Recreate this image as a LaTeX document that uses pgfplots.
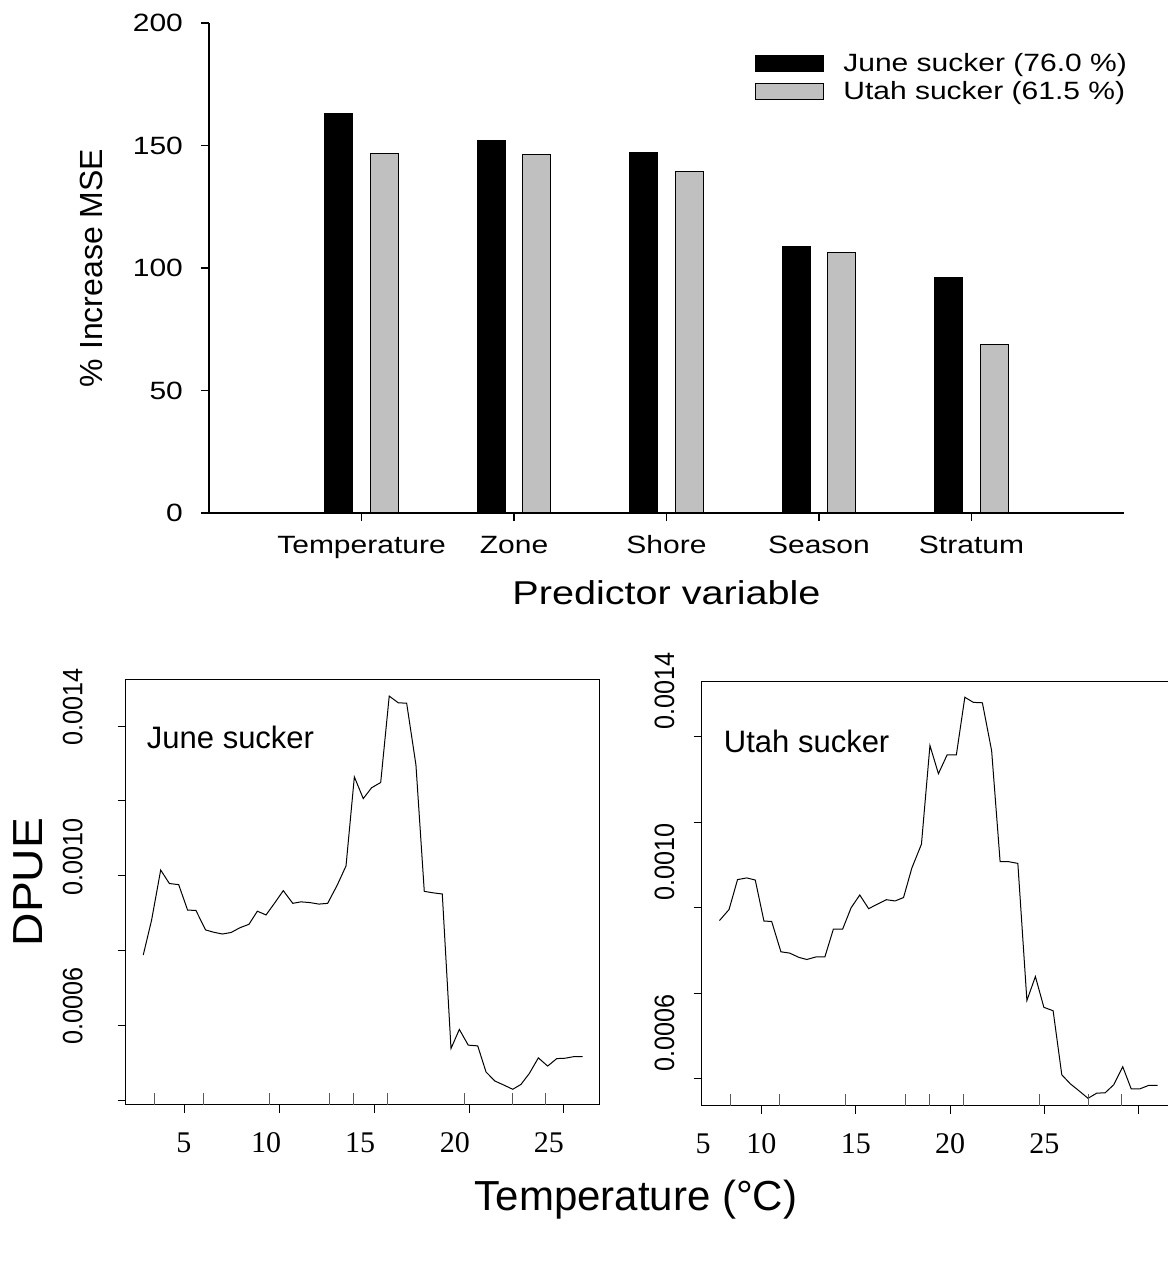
\documentclass[border=0pt]{standalone}
\usepackage{fontspec}
\setmainfont{Liberation Sans}
\newfontfamily\topfont{Liberation Sans}[FakeStretch=1.2]
\newfontfamily\dpuefont{Liberation Sans}[FakeStretch=1.1]
\newfontfamily\ytfont{Liberation Sans}[FakeStretch=0.9]
\newfontfamily\serifnum{Liberation Serif}
\usepackage{pgfplots}
\pgfplotsset{compat=1.18}
\definecolor{ugray}{RGB}{192,192,192}
\pgfplotsset{bigbox legend/.style={legend image code/.code={\draw[##1] (0pt,0pt) rectangle (34pt,7.8pt);}}}

\begin{document}
\begin{tikzpicture}
\path[use as bounding box] (0,0) rectangle (584pt,635pt);

% ---------------- top bar chart ----------------
\begin{axis}[
  at={(104.5pt,378.5pt)}, anchor=south west,
  scale only axis, width=457.5pt, height=245pt,
  xmin=-1, xmax=5, ymin=0, ymax=200,
  axis x line*=bottom, axis y line*=left,
  axis line style={line width=0.6pt,-},
  xtick={0,1,2,3,4}, xticklabels={Temperature,Zone,Shore,Season,Stratum},
  ytick={0,50,100,150,200},
  tick align=outside, major tick length=4pt,
  tick style={line width=0.6pt, black},
  /pgf/number format/assume math mode=true,
  ticklabel style={font=\topfont\fontsize{12.5}{14}\selectfont},
  xticklabel style={text height=9.2pt, text depth=2.8pt, yshift=-3.5pt},
  yticklabel style={xshift=-5.5pt},
  xlabel={Predictor variable}, ylabel={\% Increase MSE},
  xlabel style={font=\topfont\fontsize{16.5}{19}\selectfont, at={(axis description cs:0.5,-0.163)}, anchor=center},
  ylabel style={font=\fontsize{16}{18}\selectfont, at={(axis description cs:-0.128,0.5)}, anchor=center},
  legend style={at={(axis description cs:0.5967,0.9378)}, anchor=north west, draw=none, fill=none,
    inner sep=0pt, column sep=9.5pt, row sep=2.9pt,
    font=\topfont\fontsize{12.5}{14}\selectfont,
    nodes={inner sep=0pt, text height=8.6pt, text depth=2.5pt, anchor=base west}},
  legend cell align=left,
]
\addplot[ybar, bar width=14pt, bar shift=-11.35pt, fill=black, draw=black, bigbox legend]
  coordinates {(0,163.1) (1,152.2) (2,147.1) (3,108.9) (4,96.3)};
\addplot[ybar, bar width=14pt, bar shift=11.35pt, fill=ugray, draw=black, line width=0.5pt, bigbox legend]
  coordinates {(0,146.6) (1,146.4) (2,139.4) (3,106.3) (4,68.8)};
\legend{June sucker (76.0 \%), Utah sucker (61.5 \%)}
\end{axis}

% ---------------- bottom left ----------------
\begin{axis}[
  at={(62.85pt,82.5pt)}, anchor=south west, scale only axis,
  width=236.65pt, height=212.5pt,
  xmin=1.884, xmax=26.86, ymin=3.87, ymax=15.23,
  axis line style={line width=0.5pt,-},
  xtick={5,10,15,20,25}, xticklabels={,,,,},
  extra x ticks={4.96,9.29,14.25,19.26,24.22}, extra x tick labels={5,10,15,20,25},
  extra x tick style={tick style={draw=none}},
  ytick={4,6,8,10,12,14}, yticklabels={,0.0006,,0.0010,,0.0014},
  xtick pos=left, ytick pos=left, tick align=outside, major tick length=4pt,
  tick style={black, line width=0.5pt},
  xticklabel style={font=\serifnum\fontsize{15}{17}\selectfont, text height=10pt, text depth=0pt, yshift=-6pt},
  yticklabel style={font=\ytfont\fontsize{14}{16}\selectfont, rotate=90, anchor=south, xshift=9.5pt},
  yticklabel shift=14pt,
]
\addplot[black, line width=0.5pt] coordinates {
(2.81,7.88) (3.25,8.81) (3.73,10.15) (4.19,9.79) (4.68,9.76) (5.15,9.08) (5.59,9.07) (6.10,8.55) (6.51,8.49) (6.98,8.44) (7.44,8.48) (7.92,8.61) (8.39,8.70) (8.83,9.05) (9.29,8.95) (9.76,9.28) (10.20,9.60) (10.70,9.26) (11.13,9.30) (11.61,9.28) (12.08,9.24) (12.54,9.26) (13.05,9.75) (13.51,10.26) (13.95,12.64) (14.42,12.06) (14.86,12.35) (15.34,12.49) (15.79,14.80) (16.27,14.62) (16.71,14.61) (17.20,12.96) (17.64,9.58) (18.12,9.54) (18.59,9.51) (19.05,5.38) (19.49,5.89) (19.96,5.47) (20.46,5.45) (20.90,4.75) (21.37,4.51) (21.85,4.40) (22.31,4.29) (22.74,4.42) (23.18,4.71) (23.66,5.13) (24.15,4.91) (24.63,5.11) (25.07,5.12) (25.50,5.16) (26.0,5.16)};
\addplot[only marks, mark=|, mark size=3pt, gray!70!black, mark options={line width=0.5pt}] coordinates {
(3.43,4.03) (5.98,4.03) (9.46,4.03) (12.63,4.03) (13.9,4.03) (15.71,4.03) (19.74,4.03) (22.31,4.03) (24.03,4.03)};
\node[anchor=base west, font=\fontsize{15.5}{18}\selectfont] at (axis description cs:0.03,0.838) {June sucker};
\end{axis}

% ---------------- bottom right ----------------
\begin{axis}[
  at={(350.75pt,82pt)}, anchor=south west, scale only axis,
  width=233.25pt, height=212.5pt,
  xmin=6.82, xmax=31.55, ymin=5.36, ymax=15.31,
  axis x line*=box, axis y line*=left,
  axis line style={line width=0.5pt,-},
  xtick={10,15,20,25,30}, xticklabels={10,15,20,25,},
  extra x ticks={6.9}, extra x tick labels={5},
  extra x tick style={tick style={draw=none}},
  ytick={6,8,10,12,14}, yticklabels={0.0006,,0.0010,,0.0014},
  xtick pos=left, ytick pos=left, tick align=outside, major tick length=4pt,
  tick style={black, line width=0.5pt},
  xticklabel style={font=\serifnum\fontsize{15}{17}\selectfont, text height=10pt, text depth=0pt, yshift=-6pt},
  yticklabel style={font=\ytfont\fontsize{14}{16}\selectfont, rotate=90, anchor=south west},
  yticklabel shift=6pt,
]
\addplot[black, line width=0.5pt] coordinates {
(7.77,9.70) (8.28,9.96) (8.73,10.66) (9.22,10.70) (9.67,10.65) (10.13,9.69) (10.54,9.68) (11.03,8.97) (11.49,8.94) (11.98,8.84) (12.40,8.79) (12.89,8.85) (13.36,8.85) (13.81,9.50) (14.30,9.50) (14.75,10.0) (15.21,10.30) (15.68,9.98) (16.12,10.08) (16.62,10.19) (17.08,10.16) (17.53,10.24) (17.97,10.93) (18.48,11.49) (18.93,13.80) (19.38,13.14) (19.84,13.58) (20.33,13.58) (20.78,14.93) (21.23,14.81) (21.71,14.80) (22.20,13.68) (22.65,11.08) (23.10,11.08) (23.59,11.04) (24.07,7.83) (24.52,8.39) (24.97,7.67) (25.46,7.59) (25.92,6.09) (26.37,5.88) (26.82,5.72) (27.31,5.54) (27.77,5.66) (28.22,5.67) (28.68,5.86) (29.15,6.28) (29.60,5.76) (30.05,5.76) (30.51,5.84) (31.0,5.84)};
\addplot[only marks, mark=|, mark size=3pt, gray!70!black, mark options={line width=0.5pt}] coordinates {
(8.38,5.50) (10.97,5.50) (14.45,5.50) (17.66,5.50) (18.91,5.50) (20.73,5.50) (24.76,5.50) (27.35,5.50) (29.08,5.50)};
\node[anchor=base west, font=\fontsize{15.5}{18}\selectfont] at (axis description cs:0.033,0.8315) {Utah sucker};
\end{axis}

\node[rotate=90, font=\dpuefont\fontsize{21}{24}\selectfont] at (14pt,194pt) {DPUE};
\node[font=\fontsize{21}{24}\selectfont] at (318pt,35pt) {Temperature (°C)};
\end{tikzpicture}
\end{document}
